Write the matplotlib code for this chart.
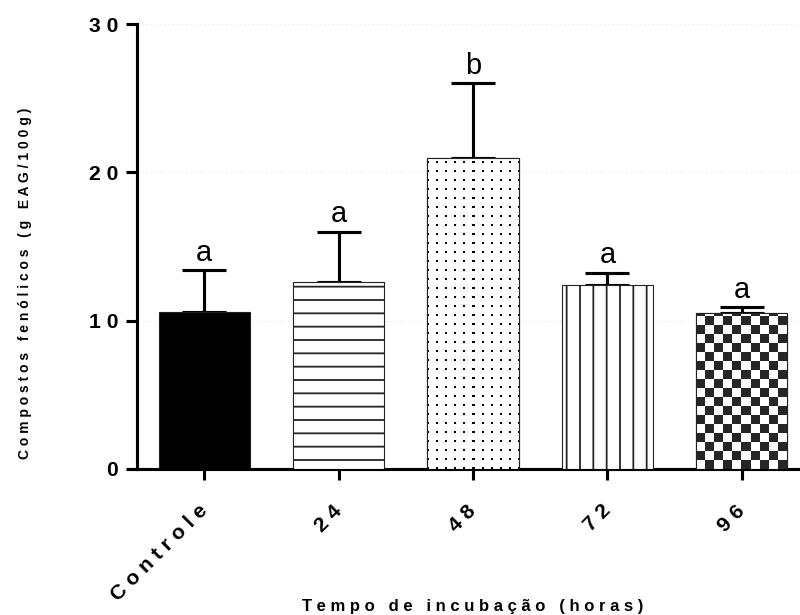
import numpy as np
import matplotlib
matplotlib.use("Agg")
import matplotlib.pyplot as plt

# Données
categories = ["Controle", "24", "48", "72", "96"]
moyennes = [10.6, 12.6, 21.0, 12.4, 10.5]
ecarts = [2.8, 3.4, 5.0, 0.8, 0.4]
lettres = ["a", "a", "b", "a", "a"]
yticks = [0, 10, 20, 30]

FAM = ["Liberation Sans", "DejaVu Sans"]
plt.rcParams["font.family"] = FAM
plt.rcParams["hatch.linewidth"] = 1.6
plt.rcParams["hatch.color"] = "black"

DPI = 80


def espace(txt, mots="   "):
    """Imite l'espacement des lettres de GraphPad."""
    return mots.join(" ".join(mot) for mot in txt.split(" "))


def texture(ax, barre, motif):
    """Remplit une barre avec un motif en pixels (damier, points)."""
    x0, y0 = barre.get_x(), barre.get_y()
    w, h = barre.get_width(), barre.get_height()
    p0 = ax.transData.transform((x0, y0))
    p1 = ax.transData.transform((x0 + w, y0 + h))
    nx = int(round(p1[0] - p0[0]))
    ny = int(round(p1[1] - p0[1]))
    jj, ii = np.meshgrid(np.arange(nx), np.arange(ny))
    img = motif(ii, jj).astype(float)
    im = ax.imshow(img, cmap="gray_r", extent=(x0, x0 + w, y0, y0 + h), origin="lower",
                   aspect="auto", interpolation="nearest", zorder=3.5, vmin=0, vmax=1)
    im.set_clip_path(barre)
    ax.bar(x0 + w / 2, h, width=w, fill=False, edgecolor="#222222", linewidth=1.0, zorder=4)


def damier(i, j):
    return ((i // 9 + j // 9) % 2) * 0.85


def points(i, j):
    return ((i % 9 < 2) & (j % 9 < 2)) * 1.0


fig = plt.figure(figsize=(800 / DPI, 615 / DPI), dpi=DPI)
ax = fig.add_axes([137 / 800, 146 / 615, 672 / 800, 445 / 615])

x = np.arange(len(categories))
larg = 0.68
motifs = [None, "-", None, "|", None]
faces = ["black", "white", "white", "white", "white"]

barres = ax.bar(x, moyennes, width=larg, color=faces, edgecolor="#222222",
                linewidth=1.0, zorder=3)
for b, m in zip(barres, motifs):
    if m:
        b.set_hatch(m)

ax.set_xlim(-0.5, len(categories) - 0.5)
ax.set_ylim(0, 30)

texture(ax, barres[2], points)
texture(ax, barres[4], damier)

# Barres d'erreur (seulement vers le haut)
ax.errorbar(x, moyennes, yerr=[np.zeros(len(ecarts)), ecarts], fmt="none",
            ecolor="black", elinewidth=2.8, capsize=20, capthick=2.8, zorder=2)

# Lettres de significativité
for xi, m, e, l in zip(x, moyennes, ecarts, lettres):
    ax.text(xi, m + e + 0.25, l, ha="center", va="bottom", fontsize=26, zorder=5)

# Grille pointillée
for yt in yticks[1:]:
    ax.axhline(yt, color="#d0d0d0", linestyle=(0, (1, 4)), linewidth=0.8, zorder=1)

for s in ["top", "right"]:
    ax.spines[s].set_visible(False)
for s in ["left", "bottom"]:
    ax.spines[s].set_linewidth(2.8)

ax.set_yticks(yticks)
ax.set_yticklabels([espace(str(t)) for t in yticks], fontsize=19, fontweight="bold")
ax.set_xticks(x)
ax.set_xticklabels([espace(c) for c in categories], fontsize=19, fontweight="bold",
                   rotation=45, ha="right", va="center", rotation_mode="anchor")
ax.tick_params(axis="both", width=2.8, length=10, direction="out")
ax.tick_params(axis="y", pad=7)
ax.tick_params(axis="x", pad=25)

fig.text(25 / 800, 1 - 283 / 615, espace("Compostos fenólicos (g EAG/100g)"),
         rotation=90, ha="center", va="center", fontsize=12.5, fontweight="bold")
fig.text(473 / 800, 1 - 606 / 615, espace("Tempo de incubação (horas)"),
         ha="center", va="center", fontsize=15, fontweight="bold")

fig.savefig("out.png", dpi=DPI)
